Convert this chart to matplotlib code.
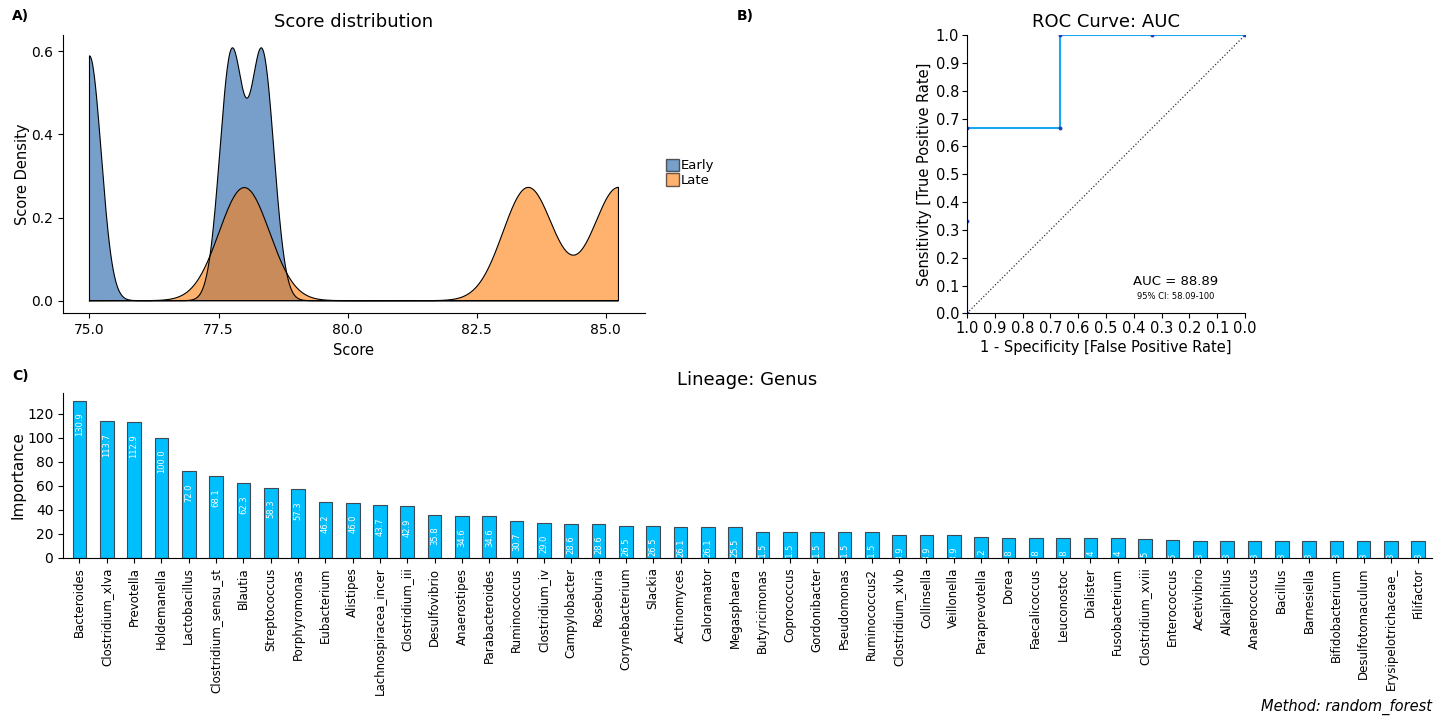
import numpy as np
import matplotlib
matplotlib.use('Agg')
import matplotlib.pyplot as plt
from matplotlib.patches import Patch
from matplotlib.transforms import Bbox, TransformedBbox

# panel A: scores per group (density drawn from these)
early_scores = [75.0, 77.75, 78.35]
late_scores = [78.0, 83.5, 85.25]
bw_adjust = 0.25

# panel B: roc points
specificity = [1.0, 1.0, 1.0, 0.667, 0.667, 0.333, 0.0]
sensitivity = [0.0, 0.333, 0.667, 0.667, 1.0, 1.0, 1.0]
auc_text = 'AUC = 88.89'
ci_text = '95% CI: 58.09-100'

# panel C: feature importance
genus = ['Bacteroides', 'Clostridium_xlva', 'Prevotella', 'Holdemanella', 'Lactobacillus',
         'Clostridium_sensu_st', 'Blautia', 'Streptococcus', 'Porphyromonas', 'Eubacterium',
         'Alistipes', 'Lachnospiracea_incer', 'Clostridium_iii', 'Desulfovibrio', 'Anaerostipes',
         'Parabacteroides', 'Ruminococcus', 'Clostridium_iv', 'Campylobacter', 'Roseburia',
         'Corynebacterium', 'Slackia', 'Actinomyces', 'Caloramator', 'Megasphaera',
         'Butyricimonas', 'Coprococcus', 'Gordonibacter', 'Pseudomonas', 'Ruminococcus2',
         'Clostridium_xlvb', 'Collinsella', 'Veillonella', 'Paraprevotella', 'Dorea',
         'Faecalicoccus', 'Leuconostoc', 'Dialister', 'Fusobacterium', 'Clostridium_xviii',
         'Enterococcus', 'Acetivibrio', 'Alkaliphilus', 'Anaerococcus', 'Bacillus',
         'Barnesiella', 'Bifidobacterium', 'Desulfotomaculum', 'Erysipelotrichaceae_', 'Filifactor']
importance = [130.9, 113.7, 112.9, 100.0, 72.0, 68.1, 62.3, 58.3, 57.3, 46.2,
              46.0, 43.7, 42.9, 35.8, 34.6, 34.6, 30.7, 29.0, 28.6, 28.6,
              26.5, 26.5, 26.1, 26.1, 25.5, 21.5, 21.5, 21.5, 21.5, 21.5,
              18.9, 18.9, 18.9, 17.2, 16.8, 16.8, 16.8, 16.4, 16.4, 15.5,
              14.5, 14.3, 14.3, 14.3, 14.3, 14.3, 14.3, 14.3, 14.3, 14.3]


def density(x, grid, adjust):
    # gaussian kde like R density() with bw.nrd0
    x = np.asarray(x)
    q75, q25 = np.percentile(x, [75, 25])
    lo = min(np.std(x, ddof=1), (q75 - q25) / 1.34)
    bw = 0.9 * lo * len(x) ** (-0.2) * adjust
    z = (grid[:, None] - x[None, :]) / bw
    return np.exp(-0.5 * z ** 2).sum(axis=1) / (len(x) * bw * np.sqrt(2 * np.pi))


fig = plt.figure(figsize=(14.46, 7.17), dpi=100)
axA = fig.add_axes([0.0436, 0.563, 0.4024, 0.388])
axB = fig.add_axes([0.6687, 0.563, 0.1923, 0.388])
axC = fig.add_axes([0.0436, 0.222, 0.9467, 0.230])

# ---- A) score distribution
early_col = '#1f5fa8'
late_col = '#ff7f0e'
allsc = early_scores + late_scores
gx = np.linspace(min(allsc), max(allsc), 800)
for sc, col in [(early_scores, early_col), (late_scores, late_col)]:
    gy = density(sc, gx, bw_adjust)
    axA.fill_between(gx, 0, gy, facecolor=col, alpha=0.6, edgecolor='none')
    axA.plot(np.r_[gx[0], gx, gx[-1], gx[0]], np.r_[0, gy, 0, 0], color='black', lw=0.8)
axA.set_xticks([75.0, 77.5, 80.0, 82.5, 85.0])
axA.set_xticklabels(['75.0', '77.5', '80.0', '82.5', '85.0'])
axA.set_yticks([0.0, 0.2, 0.4, 0.6])
axA.tick_params(labelsize=10)
axA.set_xlabel('Score', fontsize=10.5)
axA.set_ylabel('Score Density', fontsize=10.5, labelpad=1)
axA.set_title('Score distribution', fontsize=13)
axA.spines['top'].set_visible(False)
axA.spines['right'].set_visible(False)
handles = [Patch(facecolor=early_col, alpha=0.6, edgecolor='black'),
           Patch(facecolor=late_col, alpha=0.6, edgecolor='black')]
fig.legend(handles, ['Early', 'Late'], loc='center left', bbox_to_anchor=(0.4605, 0.759),
           frameon=False, fontsize=9.5, handlelength=1.0, handleheight=1.1,
           handletextpad=0.1, labelspacing=0.05, borderpad=0, borderaxespad=0)

# ---- B) roc
axB.plot([1, 0], [0, 1], ls=':', color='#333333', lw=0.9)
axB.plot(specificity, sensitivity, color='#1aa6f0', lw=1.5)
axB.plot(specificity, sensitivity, 'o', color='#1f3fbf', ms=1.8)
axB.set_xlim(1, 0)
axB.set_ylim(0, 1)
ticks = np.round(np.arange(0, 1.01, 0.1), 1)
axB.set_xticks(ticks)
axB.set_yticks(ticks)
axB.tick_params(labelsize=10.5, pad=2)
axB.set_xlabel('1 - Specificity [False Positive Rate]', fontsize=10.5, labelpad=3)
axB.set_ylabel('Sensitivity [True Positive Rate]', fontsize=10.5, labelpad=3)
axB.set_title('ROC Curve: AUC', fontsize=13)
axB.text(0.25, 0.115, auc_text, ha='center', va='center', fontsize=9.5)
axB.text(0.25, 0.06, ci_text, ha='center', va='center', fontsize=6)
axB.spines['top'].set_visible(False)
axB.spines['right'].set_visible(False)

# ---- C) genus importance
xpos = np.arange(len(genus))
bars = axC.bar(xpos, importance, width=0.5, color='#00bfff', edgecolor='#3d4a55', lw=0.8)
clip = TransformedBbox(Bbox([[-1, -0.5], [len(genus), 200]]), axC.transData)
for b, v in zip(bars, importance):
    t = axC.annotate(f'{v:.1f}', (b.get_x() + b.get_width() / 2, v), xytext=(0, -8.5),
                     textcoords='offset points', ha='center', va='top', rotation=90,
                     color='white', fontsize=6)
    t.set_clip_box(clip)
    t.set_clip_on(True)
axC.set_xlim(-0.6, len(genus) - 0.5)
axC.set_xticks(xpos)
axC.set_xticklabels(genus, rotation=90, fontsize=8.5)
axC.set_yticks([0, 20, 40, 60, 80, 100, 120])
axC.tick_params(axis='y', labelsize=10)
axC.set_ylabel('Importance', fontsize=11, labelpad=1)
axC.set_title('Lineage: Genus', fontsize=13)
axC.spines['top'].set_visible(False)
axC.spines['right'].set_visible(False)

fig.text(12 / 1446, 1 - 16 / 717, 'A)', fontsize=10, fontweight='bold', va='center')
fig.text(737 / 1446, 1 - 16 / 717, 'B)', fontsize=10, fontweight='bold', va='center')
fig.text(12 / 1446, 1 - 376 / 717, 'C)', fontsize=10, fontweight='bold', va='center')
fig.text(1432 / 1446, 1 - 707 / 717, 'Method: random_forest', fontsize=10.5,
         style='italic', ha='right', va='center')

fig.savefig('out.png', dpi=100)
